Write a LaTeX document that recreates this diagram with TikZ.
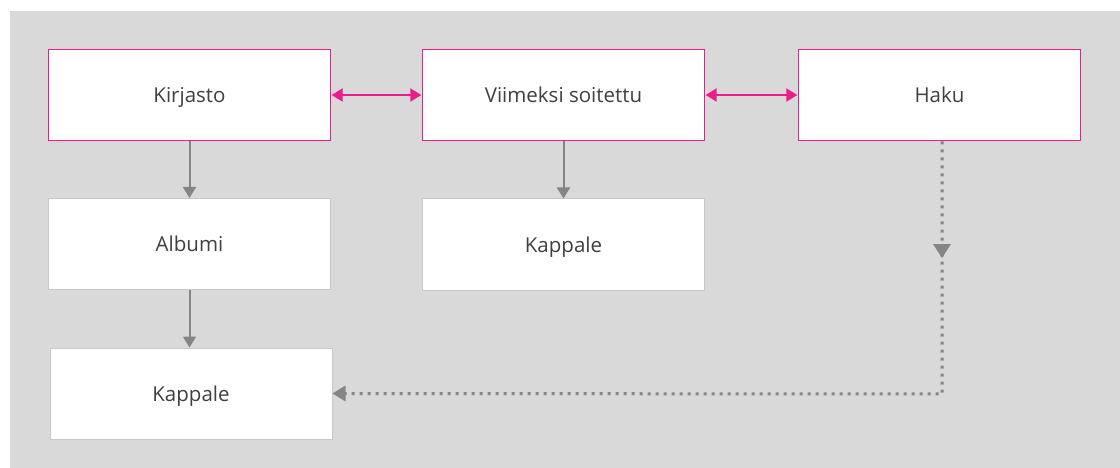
\documentclass[tikz,border=0pt]{standalone}
\usepackage{fontspec}
\setmainfont{Open Sans}
\usetikzlibrary{arrows.meta,calc}
\definecolor{bg}{HTML}{D9D9D9}
\definecolor{pinkc}{HTML}{EC1C8C}
\definecolor{arrg}{HTML}{858585}
\definecolor{boxg}{HTML}{C8C8C8}
\definecolor{txt}{HTML}{404040}
\tikzset{
  box/.style={draw=boxg, line width=1pt, fill=white, minimum width=282pt, minimum height=91pt, inner sep=0pt, text=txt, font=\fontsize{20.5}{24}\selectfont, text depth=0pt, text height=0pt},
  topbox/.style={box, draw=pinkc, line width=1.3pt},
  pinkarrow/.style={draw=pinkc, line width=2pt, {Triangle[length=11pt,width=13pt]}-{Triangle[length=11pt,width=13pt]}, shorten <=0.5pt, shorten >=0.5pt},
  grayarrow/.style={draw=arrg, line width=2pt, -{Triangle[length=11pt,width=13pt]}},
  dotline/.style={draw=arrg, line width=3pt, dash pattern=on 3pt off 5pt},
}
\newcommand{\lbl}[1]{\raisebox{-7.5pt}{#1}}
\begin{document}
\begin{tikzpicture}[x=1pt,y=-1pt]
\useasboundingbox (0,0) rectangle (1120,468);
\fill[white] (0,0) rectangle (1120,468);
\fill[bg] (10,11) rectangle (1120,468);
\node[topbox] (kir) at (189.5,95) {\lbl{Kirjasto}};
\node[topbox] (vii) at (563.5,95) {\lbl{Viimeksi soitettu}};
\node[topbox] (hak) at (939.5,95) {\lbl{Haku}};
\node[box] (alb) at (189.5,244) {\lbl{Albumi}};
\node[box] (kap2) at (563.5,244.5) {\lbl{Kappale}};
\node[box] (kap1) at (191,393.5) {\lbl{Kappale}};
\draw[pinkarrow] (kir.east) -- (vii.west);
\draw[pinkarrow] (vii.east) -- (hak.west);
\draw[grayarrow] (kir.south) -- (alb.north);
\draw[grayarrow] (alb.south) -- (kap1.north -| alb.south);
\draw[grayarrow] (vii.south) -- (kap2.north);
\coordinate (d1) at (942,141.5);
\coordinate (dm) at (942,258);
\coordinate (dc) at (942,394);
\draw[dotline] (d1) -- (dc) -- (kap1.east -| 344,0);
\fill[arrg] ($(dm)+(-9,-14)$) -- ($(dm)+(9,-14)$) -- (dm) -- cycle;
\fill[arrg] (kap1.east) -- ++(13,-8) -- ++(0,16) -- cycle;
\end{tikzpicture}
\end{document}
